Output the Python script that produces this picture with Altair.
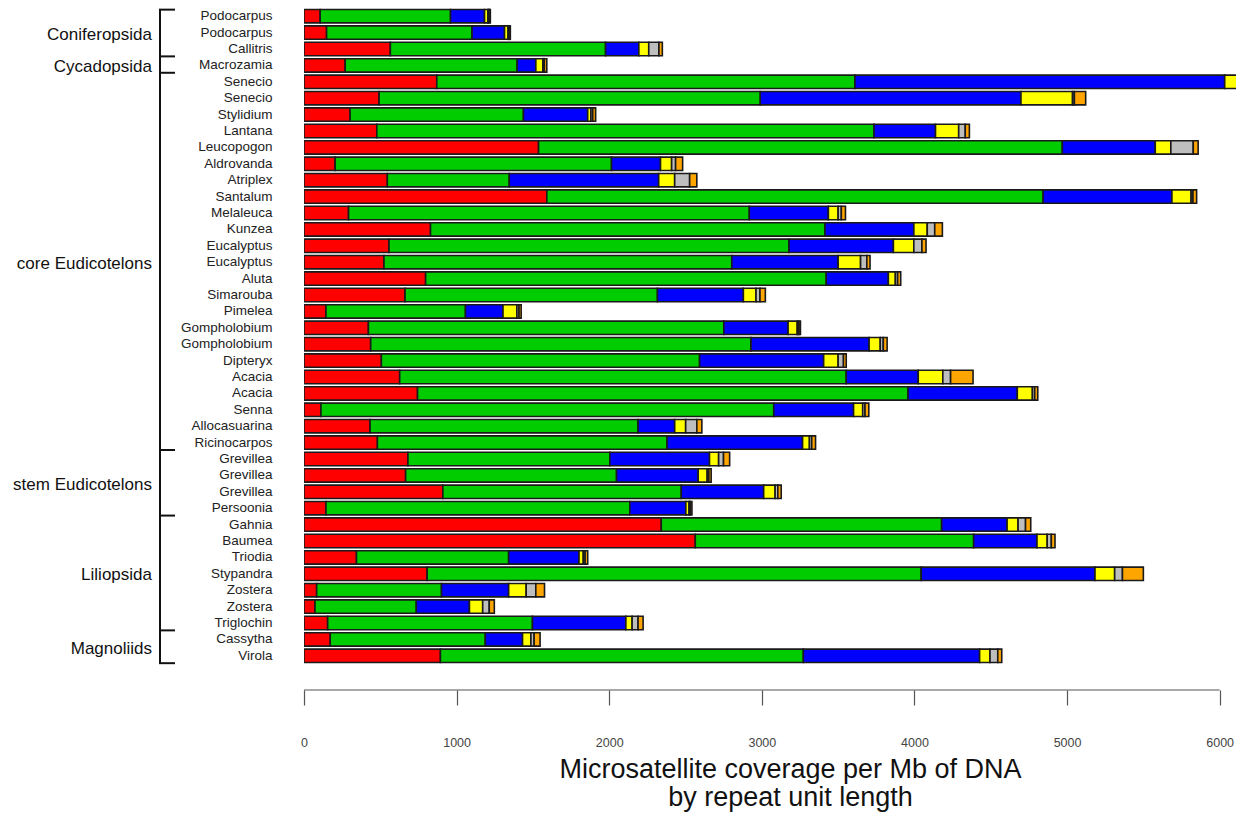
import altair as alt
import pandas as pd

# ---------------- data ----------------
species = [
    "Podocarpus", "Podocarpus", "Callitris", "Macrozamia", "Senecio", "Senecio",
    "Stylidium", "Lantana", "Leucopogon", "Aldrovanda", "Atriplex", "Santalum",
    "Melaleuca", "Kunzea", "Eucalyptus", "Eucalyptus", "Aluta", "Simarouba",
    "Pimelea", "Gompholobium", "Gompholobium", "Dipteryx", "Acacia", "Acacia",
    "Senna", "Allocasuarina", "Ricinocarpos", "Grevillea", "Grevillea", "Grevillea",
    "Persoonia", "Gahnia", "Baumea", "Triodia", "Stypandra", "Zostera", "Zostera",
    "Triglochin", "Cassytha", "Virola",
]
mono = [106, 148, 566, 270, 870, 492, 302, 477, 1537, 204, 546, 1591, 292, 829,
        557, 524, 797, 662, 144, 422, 437, 507, 627, 744, 111, 433, 481, 681, 666,
        910, 144, 2341, 2564, 344, 807, 83, 72, 155, 172, 894]
di = [854, 953, 1410, 1127, 2740, 2498, 1136, 3258, 3432, 1811, 799, 3252, 2626,
      2585, 2621, 2279, 2625, 1654, 914, 2329, 2492, 2085, 2926, 3214, 2967, 1756,
      1898, 1323, 1382, 1562, 1991, 1837, 1824, 997, 3237, 818, 664, 1342, 1016, 2378]
tri = [223, 213, 218, 122, 2423, 1708, 421, 403, 609, 321, 979, 844, 518, 582,
       684, 697, 407, 563, 246, 421, 774, 813, 472, 716, 523, 240, 888, 653, 535,
       540, 367, 429, 415, 461, 1139, 440, 348, 612, 244, 1155]
tetra = [22, 23, 65, 46, 150, 338, 21, 152, 102, 73, 105, 126, 64, 88, 134, 147,
         46, 83, 91, 60, 73, 95, 161, 99, 60, 72, 45, 60, 59, 75, 21, 72, 67, 28,
         129, 115, 87, 41, 55, 68]
penta = [7, 7, 67, 10, 10, 12, 12, 43, 147, 26, 98, 12, 21, 49, 53, 41, 15, 26,
         14, 10, 20, 35, 51, 15, 15, 73, 15, 32, 11, 18, 8, 49, 27, 12, 51, 63, 43,
         39, 21, 51]
hexa = [9, 8, 22, 16, 10, 74, 19, 27, 32, 46, 47, 24, 27, 50, 27, 21, 20, 35, 14,
        11, 25, 18, 147, 20, 25, 33, 25, 40, 15, 22, 11, 34, 24, 17, 137, 57, 33,
        33, 39, 26]

units = ["mono", "di", "tri", "tetra", "penta", "hexa"]
unit_colors = ["#ff0000", "#00cc00", "#0000ff", "#ffff00", "#bebebe", "#ffa500"]

groups = ["Coniferopsida", "Cycadopsida", "core Eudicotelons", "stem Eudicotelons",
          "Liliopsida", "Magnoliids"]
group_first = [0, 3, 4, 27, 31, 38]
group_last = [2, 3, 26, 30, 37, 39]

x_ticks = [0, 1000, 2000, 3000, 4000, 5000, 6000]

# ---------------- tables ----------------
series = [mono, di, tri, tetra, penta, hexa]
recs = []
for i, sp in enumerate(species):
    for k, (u, arr) in enumerate(zip(units, series)):
        recs.append({"row": i, "species": sp, "unit": u, "k": k, "value": arr[i]})
df = pd.DataFrame(recs)

n = len(species)
bounds = [group_first[0] - 0.4] + [last + 0.45 for last in group_last]
gdf = pd.DataFrame({
    "name": groups,
    "mid": [(bounds[j] + bounds[j + 1]) / 2 + 0.15 for j in range(len(groups))],
})
bdf = pd.DataFrame({"b": bounds})
vdf = pd.DataFrame({"y0": [bounds[0]], "y1": [bounds[-1]]})

W, H = 932, 656
FONT = "Liberation Sans"
label_expr = "[" + ",".join("'" + s + "'" for s in species) + "][datum.value]"
yq = alt.Scale(domain=[-0.5, n - 0.5], reverse=True, nice=False, zero=False)

bars = alt.Chart(df).mark_bar(stroke="#1a1a1a", strokeWidth=1.6, clip=True).encode(
    y=alt.Y("row:O",
            scale=alt.Scale(paddingInner=0.18, paddingOuter=0.09),
            axis=alt.Axis(title=None, labelExpr=label_expr, ticks=False, domain=False,
                          labelPadding=32, labelFontSize=13.5, labelColor="#222",
                          labelFont=FONT)),
    x=alt.X("value:Q", stack="zero",
            scale=alt.Scale(domain=[0, 6107], nice=False),
            axis=alt.Axis(values=x_ticks, offset=26, tickSize=15, domain=False,
                          grid=False, labelFlush=False, labelPadding=31,
                          labelFontSize=12.5, labelColor="#444", labelFont=FONT,
                          tickColor="#555", tickWidth=1.2, format="d",
                          title=["Microsatellite coverage per Mb of DNA",
                                 "by repeat unit length"],
                          titleFont=FONT, titleFontSize=27, titleFontWeight="normal",
                          titleColor="#111", titlePadding=8, titleLineHeight=28,
                          titleX=486, titleAlign="center")),
    color=alt.Color("unit:N", scale=alt.Scale(domain=units, range=unit_colors),
                    legend=None),
    order=alt.Order("k:Q", sort="ascending"),
)

axis_line = alt.Chart(pd.DataFrame({"z": [0]})).mark_rule(
    color="#555", strokeWidth=1.2).encode(
    x=alt.datum(0), x2=alt.datum(6000), y=alt.value(H + 26))

vline = alt.Chart(vdf).mark_rule(color="#111", strokeWidth=2).encode(
    x=alt.value(-144),
    y=alt.Y("y0:Q", scale=yq, axis=None),
    y2="y1:Q",
)
bticks = alt.Chart(bdf).mark_rule(color="#111", strokeWidth=2).encode(
    x=alt.value(-145), x2=alt.value(-129),
    y=alt.Y("b:Q", scale=yq, axis=None),
)
glabels = alt.Chart(gdf).mark_text(align="right", baseline="middle", fontSize=17,
                                    font=FONT, color="#111").encode(
    x=alt.value(-152),
    y=alt.Y("mid:Q", scale=yq, axis=None),
    text="name:N",
)

chart = alt.layer(bars, axis_line, vline, bticks, glabels).resolve_scale(
    y="independent"
).properties(
    width=W, height=H,
    autosize=alt.AutoSizeParams(type="none"),
    padding={"left": 296, "top": 0, "right": 0, "bottom": 148},
    background="white",
).configure_view(stroke=None)

chart.save("out.html", embed_options={"renderer": "svg", "actions": False})
